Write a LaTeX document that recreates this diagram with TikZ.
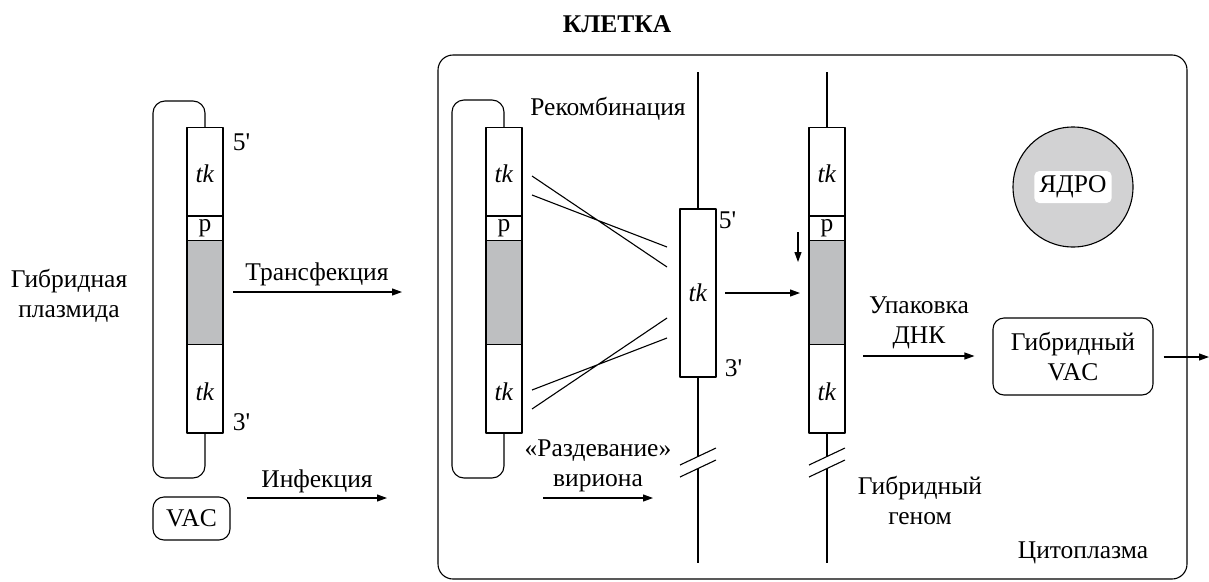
\documentclass[tikz,border=0pt]{standalone}
\usepackage{fontspec}
\setmainfont{LiberationSerif}[Extension=.ttf,UprightFont=*-Regular,BoldFont=*-Bold,ItalicFont=*-Italic,BoldItalicFont=*-BoldItalic]
\usetikzlibrary{arrows.meta}
\definecolor{insert}{RGB}{190,191,193}
\definecolor{nucleus}{RGB}{210,210,211}
\newcommand{\pr}{\textquotesingle}

\begin{document}
\begin{tikzpicture}[x=1pt,y=-1pt,line width=1.1pt,line join=round,
  font=\fontsize{25.5}{30}\selectfont,
  arr/.style={-{Triangle[length=10pt,width=7pt]}},
  rbox/.style={draw,rounded corners=11,align=center}]
  \useasboundingbox (0,0) rectangle (1209,581);
  % cell
  \draw[rounded corners=15] (438,55) rectangle (1187,579);
  \node[font=\fontsize{25.5}{30}\selectfont\bfseries] (title) at (617,24) {КЛЕТКА};
  % inserts: plasmid, plasmid in the cell, hybrid genome
  \foreach \c/\n in {205/L,504/M,827/R} {
    \fill[insert] (\c-18,240.5) rectangle (\c+18,344.5);
    \draw (\c-18,127.5) rectangle (\c+18,433);
    \draw (\c-18,216) -- (\c+18,216) (\c-18,240.5) -- (\c+18,240.5) (\c-18,344.5) -- (\c+18,344.5);
    \node (tka\n) at (\c,174) {\textit{tk}}; \node (p\n) at (\c,228) {p}; \node (tkb\n) at (\c,392) {\textit{tk}};
  }
  \foreach \c/\t in {205/101,504/100} \draw[rounded corners=12] (\c,127.5) -- (\c,\t) -- (\c-52,\t) -- (\c-52,478) -- (\c,478) -- (\c,433);
  \node[anchor=west] (fiveL) at (229,142) {5\pr}; \node[anchor=west] (threeL) at (229,422) {3\pr};
  % viral genome and hybrid genome
  \draw (680,209) rectangle (716,377); \node (tkV) at (698,293) {\textit{tk}};
  \node[anchor=west] (fiveV) at (715,220) {5\pr}; \node[anchor=west] (threeV) at (721,368) {3\pr};
  \foreach \x/\t/\b in {698/209/377,827/127.5/433} {
    \draw (\x,72) -- (\x,\t); \draw (\x,\b) -- (\x,456.5); \draw (\x,468.5) -- (\x,563);
    \draw (\x-18,465) -- (\x+18,448) (\x-18,477) -- (\x+18,460);
  }
  % crossing over
  \draw (532,176) -- (667,267) (532,195) -- (667,247);
  \draw (532,390) -- (667,338) (532,409) -- (667,318);
  \node[circle,draw,fill=nucleus,minimum size=120] (nuc) at (1073,187) {};
  \node[fill=white,rounded corners=5,inner xsep=5,minimum height=32] (nucl) at (nuc) {ЯДРО};
  \node[rbox,minimum width=77,minimum height=43] (vac) at (191.5,518.5) {VAC};
  \node[rbox,minimum width=160,minimum height=77] (hvac) at (1073,356.5) {Гибридный\\VAC};
  \node[align=center] (plasmid) at (69,296) {Гибридная\\плазмида};
  \node (recomb) at (608,109) {Рекомбинация};
  \node (transf) at (317,274) {Трансфекция};
  \node (infect) at (317,481) {Инфекция};
  \node[align=center] (uncoat) at (598,466) {«Раздевание»\\вириона};
  \node[align=center] (pack) at (919,323) {Упаковка\\ДНК};
  \node[align=center] (hgen) at (920,500) {Гибридный\\геном};
  \node (cyto) at (1083,553) {Цитоплазма};
  % arrows
  \coordinate (t1) at (233,292); \coordinate (t2) at (402,292);
  \coordinate (i1) at (247,498); \coordinate (i2) at (387,498);
  \coordinate (u1) at (543,498); \coordinate (u2) at (653,498);
  \coordinate (v1) at (725,293); \coordinate (v2) at (800,293);
  \coordinate (d1) at (798,232); \coordinate (d2) at (798,262);
  \coordinate (k1) at (863,356); \coordinate (out) at (1209,357);
  \draw[arr] (t1) -- (t2); \draw[arr] (i1) -- (i2); \draw[arr] (u1) -- (u2);
  \draw[arr] (v1) -- (v2); \draw[arr] (d1) -- (d2);
  \draw[arr] (k1) -- ([xshift=-18]hvac.west |- k1); \draw[arr] ([xshift=10]hvac.east |- out) -- (out);
\end{tikzpicture}
\end{document}
